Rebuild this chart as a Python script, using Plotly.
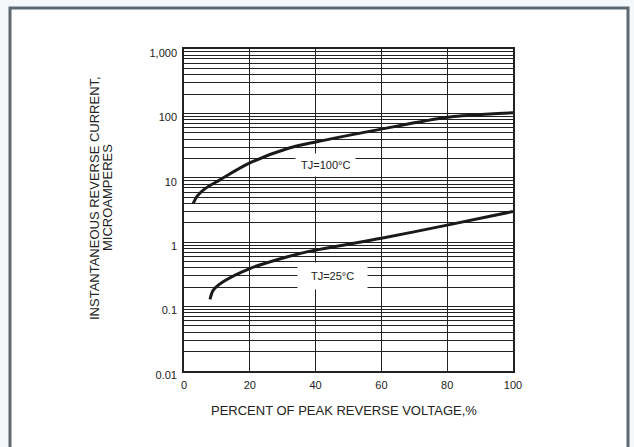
import math
import plotly.graph_objects as go

# ---- data ----
x_tj100 = [2.8, 4, 6.4, 10.9, 20, 32, 40, 60, 80, 93, 100]
y_tj100 = [4.0, 5.2, 6.8, 9.3, 17, 29, 36, 57, 87, 98, 102]

x_tj25 = [7.9, 8.9, 12, 20, 28, 38, 60, 80, 100]
y_tj25 = [0.13, 0.18, 0.245, 0.39, 0.53, 0.72, 1.15, 1.84, 3.0]

x_ticks = [0, 20, 40, 60, 80, 100]
x_tick_labels = ["0", "20", "40", "60", "80", "100"]
decades = [0.01, 0.1, 1, 10, 100, 1000]
decade_labels = ["0.01", "0.1", "1", "10", "100", "1,000"]

label_100 = "TJ=100°C"
label_100_pos = (43, 15.9)
label_25 = "TJ=25°C"
label_25_pos = (45, 0.297)
x_title = "PERCENT OF PEAK REVERSE VOLTAGE,%"
y_title_lines = ["INSTANTANEOUS REVERSE CURRENT,", "MICROAMPERES"]

# ---- layout geometry ----
W, H = 634, 447
L, R, T, B = 184, 121, 49, 76
PW, PH = W - L - R, H - T - B


def px_x(px):
    return (px - L) / PW


def px_y(py):
    return (H - B - py) / PH


# y tick values: all 1..9 multiples in each decade -> full log grid
y_tickvals, y_ticktext = [], []
for d, lab in zip(decades, decade_labels):
    if d == decades[-1]:
        y_tickvals.append(d)
        y_ticktext.append(lab)
        break
    for m in range(1, 10):
        y_tickvals.append(m * d)
        y_ticktext.append(lab if m == 1 else "")

fig = go.Figure()
fig.add_trace(go.Scatter(x=x_tj100, y=y_tj100, mode="lines",
                         line=dict(color="#1a1a1a", width=3, shape="spline", smoothing=0.8),
                         showlegend=False, hoverinfo="skip"))
fig.add_trace(go.Scatter(x=x_tj25, y=y_tj25, mode="lines",
                         line=dict(color="#1a1a1a", width=3, shape="spline", smoothing=0.8),
                         showlegend=False, hoverinfo="skip"))

tick_font = dict(family="Liberation Sans, Arial, sans-serif", size=11, color="#222")

fig.update_xaxes(range=[0, 100], tickvals=x_ticks, ticktext=x_tick_labels,
                 showgrid=True, gridcolor="#222", gridwidth=1.3,
                 showline=True, linecolor="#222", linewidth=1.6, mirror=True,
                 zeroline=False, ticks="", tickfont=tick_font,
                 ticklabelstandoff=3, fixedrange=True)
fig.update_yaxes(type="log", range=[-2, 3], tickvals=y_tickvals, ticktext=y_ticktext,
                 showgrid=True, gridcolor="#222", gridwidth=1.3,
                 showline=True, linecolor="#222", linewidth=1.6, mirror=True,
                 zeroline=False, ticks="", tickfont=tick_font,
                 ticklabelshift=4, ticklabelstandoff=3, fixedrange=True)

# outer frame
fig.add_shape(type="rect", xref="paper", yref="paper",
              x0=px_x(10), x1=px_x(628), y0=px_y(470), y1=px_y(8),
              line=dict(color="#5e6870", width=3), fillcolor="white", layer="below")

ann_font = dict(family="Liberation Sans, Arial, sans-serif", size=11, color="#222")
# annotations on a log axis take log10 positions
fig.add_annotation(x=label_100_pos[0], y=math.log10(label_100_pos[1]), xref="x", yref="y",
                   text=label_100, showarrow=False,
                   font=ann_font, bgcolor="white", borderpad=5)
fig.add_annotation(x=label_25_pos[0], y=math.log10(label_25_pos[1]), xref="x", yref="y",
                   text="  " + label_25 + "  ",
                   showarrow=False, font=ann_font, bgcolor="white", borderpad=7)

title_font = dict(family="Liberation Sans, Arial, sans-serif", size=13, color="#222")
fig.add_annotation(x=px_x(344), y=px_y(410), xref="paper", yref="paper", text=x_title,
                   showarrow=False, font=title_font, xanchor="center", yanchor="middle")
for line_text, cx in zip(y_title_lines, [94, 107]):
    fig.add_annotation(x=px_x(cx), y=px_y(198), xref="paper", yref="paper", text=line_text,
                       showarrow=False, font=title_font, textangle=-90,
                       xanchor="center", yanchor="middle")

fig.update_layout(width=W, height=H, autosize=False,
                  margin=dict(l=L, r=R, t=T, b=B),
                  paper_bgcolor="#f4f8fb", plot_bgcolor="white")

fig.write_html("out.html", config={"displayModeBar": False},
               post_script="document.body.style.margin='0';document.body.style.overflow='hidden';")
